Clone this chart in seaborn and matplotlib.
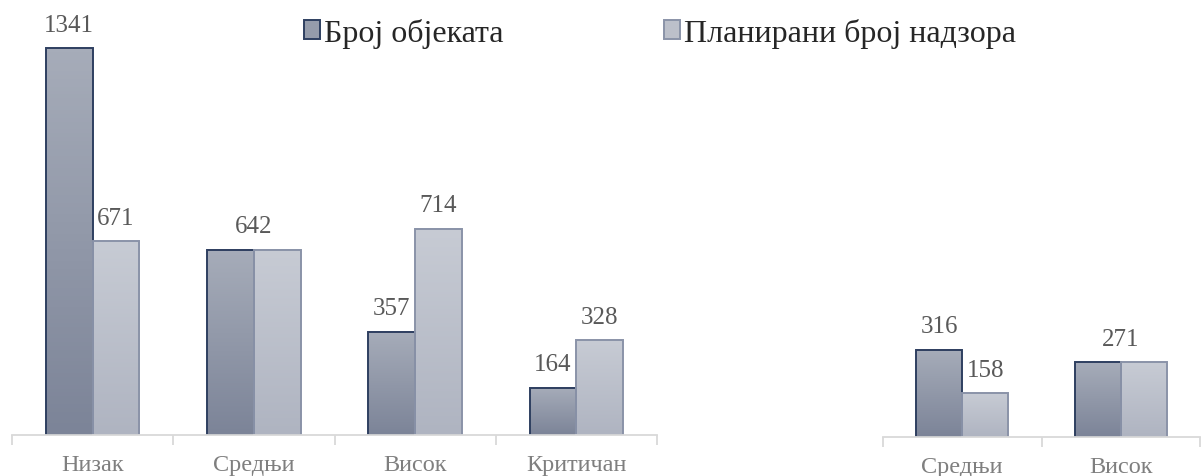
import numpy as np
import pandas as pd
import seaborn as sb
import matplotlib.pyplot as plt
from matplotlib.patches import Patch
from matplotlib.colors import LinearSegmentedColormap

#%% data
series = ['Број објеката', 'Планирани број надзора']
cats_left = ['Низак', 'Средњи', 'Висок', 'Критичан']
objects_left = [1341, 642, 357, 164]
planned_left = [671, 642, 714, 328]
cats_right = ['Средњи', 'Висок']
objects_right = [316, 271]
planned_right = [158, 271]

#%% style
sb.set_style('white')
plt.rcParams['font.family'] = ['Liberation Serif', 'DejaVu Serif']
dark_top, dark_bot, dark_edge = '#a6acb9', '#7c8498', '#2e3f60'
light_top, light_bot, light_edge = '#c7cbd4', '#afb4c1', '#8a93a8'
axis_col = '#d9d9d9'


def make_df(cats, a, b):
    return pd.DataFrame({'cat': cats * 2,
                         'val': a + b,
                         'series': [series[0]] * len(cats) + [series[1]] * len(cats)})


def draw_panel(ax, cats, a, b, ytop):
    df = make_df(cats, a, b)
    sb.barplot(data=df, x='cat', y='val', hue='series', order=cats,
               hue_order=series, width=0.58, ax=ax, legend=False,
               palette=[dark_bot, light_bot])
    n = len(cats)
    for i, p in enumerate(ax.patches):
        dark = i < n
        top, bot = (dark_top, dark_bot) if dark else (light_top, light_bot)
        cmap = LinearSegmentedColormap.from_list('g', [bot, top])
        x0, w, h = p.get_x(), p.get_width(), p.get_height()
        grad = np.linspace(1, 0, 100).reshape(-1, 1)
        ax.imshow(grad, cmap=cmap, extent=[x0, x0 + w, 0, h], aspect='auto',
                  zorder=1, vmin=0, vmax=1)
        p.set_facecolor('none')
        p.set_edgecolor(dark_edge if dark else light_edge)
        p.set_linewidth(1.4)
        p.set_zorder(2)
    # value labels (one label in the middle when both bars are equal)
    for i in range(n):
        pa, pb = ax.patches[i], ax.patches[i + n]
        if a[i] == b[i]:
            ax.annotate(str(a[i]), (i, a[i]), xytext=(0, 9), textcoords='offset points',
                        ha='center', va='bottom', fontsize=18, color='#595959')
        else:
            for p, v in ((pa, a[i]), (pb, b[i])):
                ax.annotate(str(v), (p.get_x() + p.get_width() / 2, v), xytext=(0, 9),
                            textcoords='offset points', ha='center', va='bottom',
                            fontsize=18, color='#595959')
    ax.set_xlim(-0.5, n - 0.5)
    ax.set_ylim(0, ytop)
    ax.set_xlabel('')
    ax.set_ylabel('')
    ax.set_yticks([])
    for s in ['top', 'right', 'left']:
        ax.spines[s].set_visible(False)
    ax.spines['bottom'].set_color(axis_col)
    ax.spines['bottom'].set_linewidth(1.3)
    ax.set_xticks(np.arange(-0.5, n), minor=True)
    ax.tick_params(axis='x', which='minor', length=7, width=1.3, color=axis_col,
                   direction='out', bottom=True)
    ax.tick_params(axis='x', which='major', length=0, pad=14, labelsize=17.5,
                   labelcolor='#7f7f7f')


fig = plt.figure(figsize=(12.03, 4.77), dpi=100)
ax1 = fig.add_axes([12 / 1203, 41 / 477, 645 / 1203, 436 / 477])
ax2 = fig.add_axes([883 / 1203, 39 / 477, 317 / 1203, 438 / 477])
draw_panel(ax1, cats_left, objects_left, planned_left, 1511)
draw_panel(ax2, cats_right, objects_right, planned_right, 1587)

handles = [Patch(facecolor='#959cab', edgecolor=dark_edge, linewidth=1.4),
           Patch(facecolor='#bcc0ca', edgecolor=light_edge, linewidth=1.4)]
fig.legend(handles, series, loc='center', bbox_to_anchor=(660 / 1203, 1 - 34 / 477),
           ncol=2, frameon=False, fontsize=23, handlelength=0.5, handleheight=0.55,
           handletextpad=0.15, columnspacing=5.0, borderpad=0, borderaxespad=0)

fig.savefig('out.png', dpi=100)
